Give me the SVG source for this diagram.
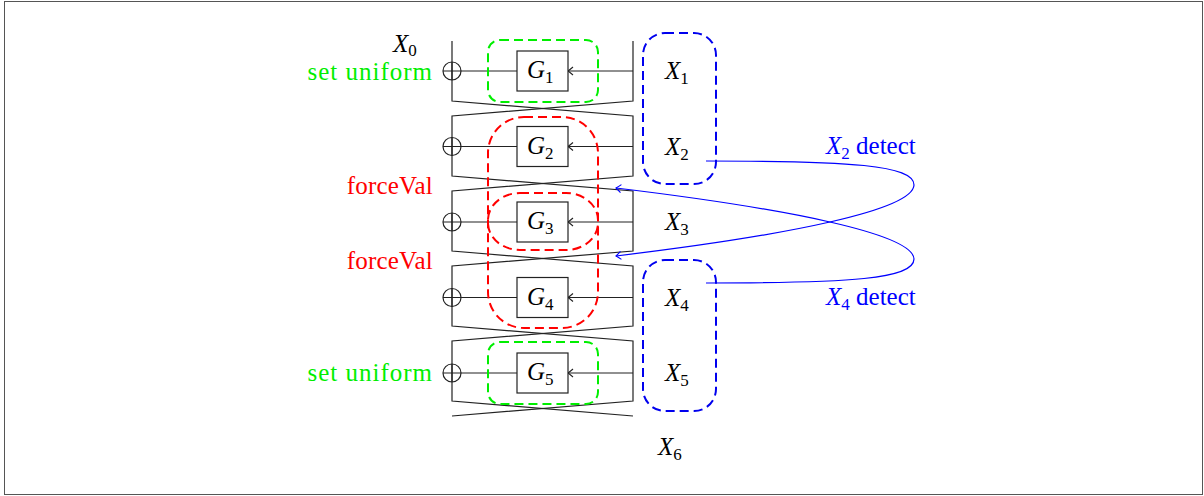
<svg xmlns="http://www.w3.org/2000/svg" width="1204" height="496" viewBox="0 0 1204 496">
<style>
.w{fill:none;stroke:#222;stroke-width:1.2}
.box{fill:#fff;stroke:#222;stroke-width:1.2}
.gd{fill:none;stroke:#00ee00;stroke-width:2;stroke-dasharray:9 5}
.rd{fill:none;stroke:#ff0000;stroke-width:2;stroke-dasharray:9 5}
.bd{fill:none;stroke:#0000ee;stroke-width:2;stroke-dasharray:9 5}
.bc{fill:none;stroke:#0000ff;stroke-width:1.2}
.t{font-family:"Liberation Serif","DejaVu Serif",serif;font-size:25px;fill:#000}
.tb{font-family:"Liberation Serif","DejaVu Serif",serif;font-size:25px;fill:#0000ff}
.m{font-style:italic}
.s{font-size:17px;font-style:normal}
.lab{font-family:"Liberation Serif","DejaVu Serif",serif;font-size:25px;text-anchor:end}
.su{fill:#00ee00;letter-spacing:1px}
.fv{fill:#ff0000;letter-spacing:0.2px}
</style>
<defs>
<marker id="ak" viewBox="-8 -6 10 12" refX="0" refY="0" markerWidth="10" markerHeight="12" markerUnits="userSpaceOnUse" orient="auto"><path d="M-5,-4 Q-1.5,-1 0,0 Q-1.5,1 -5,4" fill="none" stroke="#222" stroke-width="1.1"/></marker>
<marker id="ab" viewBox="-8 -6 10 12" refX="0" refY="0" markerWidth="10" markerHeight="12" markerUnits="userSpaceOnUse" orient="auto"><path d="M-5,-4 Q-1.5,-1 0,0 Q-1.5,1 -5,4" fill="none" stroke="#0000ff" stroke-width="1.1"/></marker>
</defs>
<rect x="4.5" y="1.5" width="1198" height="493" fill="#fff" stroke="#555" stroke-width="1"/>

<g id="network">
<path class="w" d="M452,41 V101 L633,116 V176 L452,191 V251 L633,266 V326 L452,341 V401 L633,416"/>
<path class="w" d="M633,41 V101 L452,116 V176 L633,191 V251 L452,266 V326 L633,341 V401 L452,416"/>
</g>

<g id="connectors">
<path class="w" d="M443,71 H517" /><path class="w" d="M633,71 H568" marker-end="url(#ak)"/>
<path class="w" d="M443,146.5 H517" /><path class="w" d="M633,146.5 H568" marker-end="url(#ak)"/>
<path class="w" d="M443,222 H517" /><path class="w" d="M633,222 H568" marker-end="url(#ak)"/>
<path class="w" d="M443,297.5 H517" /><path class="w" d="M633,297.5 H568" marker-end="url(#ak)"/>
<path class="w" d="M443,373 H517" /><path class="w" d="M633,373 H568" marker-end="url(#ak)"/>
<path class="bc" d="M706,161 C850,161 914,165 914,185 C913,210 790,235 616,256" marker-end="url(#ab)"/>
<path class="bc" d="M706,283 C850,283 914,279 914,259 C913,234 790,209 616,188" marker-end="url(#ab)"/>
</g>

<g id="xor1"><circle class="w" cx="452" cy="71" r="9"/><path class="w" d="M452,62 V80"/></g>
<g id="xor2"><circle class="w" cx="452" cy="146.5" r="9"/><path class="w" d="M452,137.5 V155.5"/></g>
<g id="xor3"><circle class="w" cx="452" cy="222" r="9"/><path class="w" d="M452,213 V231"/></g>
<g id="xor4"><circle class="w" cx="452" cy="297.5" r="9"/><path class="w" d="M452,288.5 V306.5"/></g>
<g id="xor5"><circle class="w" cx="452" cy="373" r="9"/><path class="w" d="M452,364 V382"/></g>

<g id="G1"><rect class="box" x="517" y="51" width="51" height="40"/><text class="t" x="527" y="78"><tspan class="m">G</tspan><tspan class="s" dy="5">1</tspan></text></g>
<g id="G2"><rect class="box" x="517" y="126.5" width="51" height="40"/><text class="t" x="527" y="153.5"><tspan class="m">G</tspan><tspan class="s" dy="5">2</tspan></text></g>
<g id="G3"><rect class="box" x="517" y="202" width="51" height="40"/><text class="t" x="527" y="229"><tspan class="m">G</tspan><tspan class="s" dy="5">3</tspan></text></g>
<g id="G4"><rect class="box" x="517" y="277.5" width="51" height="40"/><text class="t" x="527" y="304.5"><tspan class="m">G</tspan><tspan class="s" dy="5">4</tspan></text></g>
<g id="G5"><rect class="box" x="517" y="353" width="51" height="40"/><text class="t" x="527" y="380"><tspan class="m">G</tspan><tspan class="s" dy="5">5</tspan></text></g>

<g id="groups">
<rect class="gd" x="488" y="40" width="110" height="62" rx="12"/>
<rect class="gd" x="488" y="342" width="110" height="62" rx="12"/>
<rect class="rd" x="488" y="117" width="110" height="211" rx="36"/>
<rect class="rd" x="488" y="193" width="110" height="57" rx="32" ry="27"/>
<rect class="bd" x="643" y="33" width="73" height="151" rx="22"/>
<rect class="bd" x="643" y="260" width="73" height="151" rx="22"/>
</g>

<g id="labels">
<text class="t" x="393" y="52"><tspan class="m">X</tspan><tspan class="s" dy="4">0</tspan></text>
<text class="t" x="665" y="79"><tspan class="m">X</tspan><tspan class="s" dy="5">1</tspan></text>
<text class="t" x="665" y="154.5"><tspan class="m">X</tspan><tspan class="s" dy="5">2</tspan></text>
<text class="t" x="665" y="230"><tspan class="m">X</tspan><tspan class="s" dy="5">3</tspan></text>
<text class="t" x="665" y="305.5"><tspan class="m">X</tspan><tspan class="s" dy="5">4</tspan></text>
<text class="t" x="665" y="381"><tspan class="m">X</tspan><tspan class="s" dy="5">5</tspan></text>
<text class="t" x="658" y="455"><tspan class="m">X</tspan><tspan class="s" dy="5">6</tspan></text>
<text class="lab su" x="433" y="80">set uniform</text>
<text class="lab fv" x="433" y="194">forceVal</text>
<text class="lab fv" x="433" y="269">forceVal</text>
<text class="lab su" x="433" y="381">set uniform</text>
<text class="tb" x="826" y="154"><tspan class="m">X</tspan><tspan class="s" dy="5">2</tspan><tspan dy="-5"> detect</tspan></text>
<text class="tb" x="826" y="305"><tspan class="m">X</tspan><tspan class="s" dy="5">4</tspan><tspan dy="-5"> detect</tspan></text>
</g>
</svg>
